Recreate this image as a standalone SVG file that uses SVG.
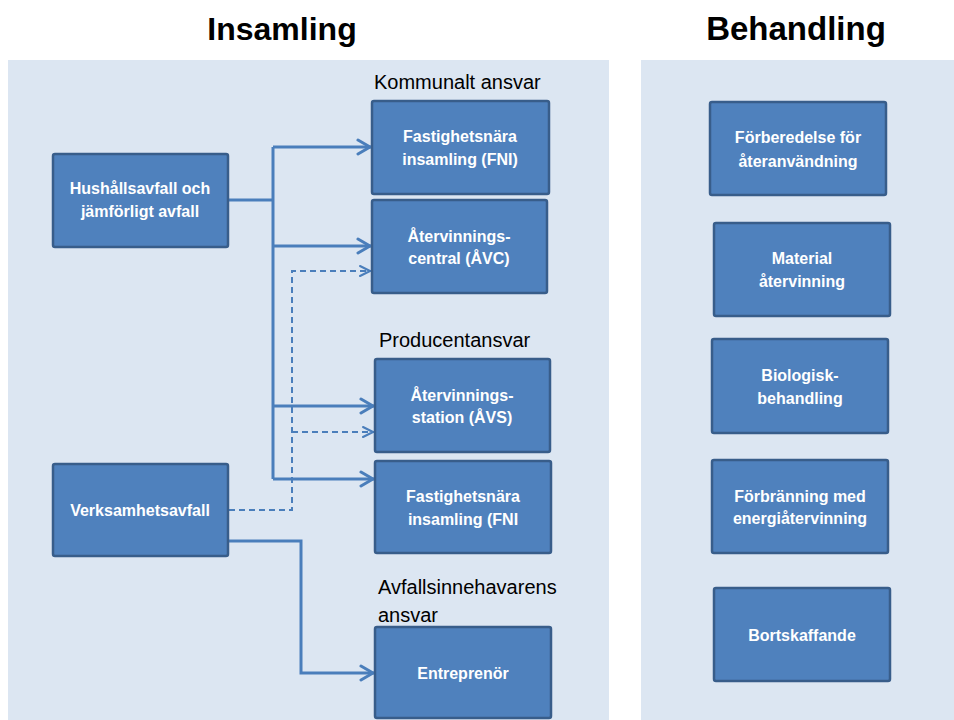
<svg xmlns="http://www.w3.org/2000/svg" width="954" height="720" viewBox="0 0 954 720">
  <style>
    .panel { fill: #DCE6F2; }
    .box { fill: #4F81BD; stroke: #385D8A; stroke-width: 2.5; }
    .lbl { fill: #FFFFFF; font-family: "Liberation Sans", Arial, sans-serif; font-weight: bold; font-size: 16px; text-anchor: middle; }
    .title { fill: #000000; font-family: "Liberation Sans", Arial, sans-serif; font-weight: bold; font-size: 32px; text-anchor: middle; }
    .note { fill: #000000; font-family: "Liberation Sans", Arial, sans-serif; font-size: 20px; }
    .solid { fill: none; stroke: #4A7EBB; stroke-width: 3; stroke-linejoin: miter; }
    .dash { fill: none; stroke: #4A7EBB; stroke-width: 2; stroke-dasharray: 6 4; }
  </style>
  <defs>
    <marker id="arrow" markerUnits="userSpaceOnUse" viewBox="0 0 16 18" refX="15" refY="9" markerWidth="16" markerHeight="18" orient="auto">
      <path d="M2,2 L14,9 L2,16" fill="none" stroke="#4A7EBB" stroke-width="3" stroke-linecap="round" stroke-linejoin="round"/>
    </marker>
    <marker id="arrowDash" markerUnits="userSpaceOnUse" viewBox="0 0 14 14" refX="13" refY="7" markerWidth="14" markerHeight="14" orient="auto">
      <path d="M2,2 L12,7 L2,12" fill="none" stroke="#4A7EBB" stroke-width="2" stroke-linecap="round" stroke-linejoin="round"/>
    </marker>
  </defs>

  <rect width="954" height="720" fill="#FFFFFF"/>

  <!-- section headings -->
  <text class="title" x="282" y="40">Insamling</text>
  <text class="title" x="796" y="40" style="font-size:33px">Behandling</text>

  <!-- background panels -->
  <rect class="panel" x="8" y="60" width="601" height="660"/>
  <rect class="panel" x="641" y="60" width="313" height="660"/>

  <!-- responsibility captions -->
  <text class="note" x="374" y="89">Kommunalt ansvar</text>
  <text class="note" x="379" y="347">Producentansvar</text>
  <text class="note" x="378" y="594">Avfallsinnehavarens</text>
  <text class="note" x="378" y="622">ansvar</text>

  <!-- connectors -->
  <g id="connectors">
    <path class="solid" d="M228,200 H273"/>
    <path class="solid" d="M273,147 V479"/>
    <path class="solid" d="M273,147 H371" marker-end="url(#arrow)"/>
    <path class="solid" d="M273,246 H371" marker-end="url(#arrow)"/>
    <path class="solid" d="M273,406 H374" marker-end="url(#arrow)"/>
    <path class="solid" d="M273,479 H374" marker-end="url(#arrow)"/>
    <path class="dash" d="M229,510 H292 V271 H371" marker-end="url(#arrowDash)"/>
    <path class="dash" d="M292,432 H374" marker-end="url(#arrowDash)"/>
    <path class="solid" d="M228,541 H301 V673 H374" marker-end="url(#arrow)"/>
  </g>

  <!-- collection side -->
  <g id="hushall">
    <rect class="box" x="53" y="154" width="175" height="93" rx="2"/>
    <text class="lbl" x="140" y="194">Hushållsavfall och</text>
    <text class="lbl" x="140" y="217">jämförligt avfall</text>
  </g>
  <g id="verksamhet">
    <rect class="box" x="53" y="464" width="175" height="92" rx="2"/>
    <text class="lbl" x="140" y="516">Verksamhetsavfall</text>
  </g>
  <g id="fni-kommunal">
    <rect class="box" x="372" y="101" width="177" height="93" rx="2"/>
    <text class="lbl" x="460" y="142">Fastighetsnära</text>
    <text class="lbl" x="460" y="165">insamling (FNI)</text>
  </g>
  <g id="avc">
    <rect class="box" x="372" y="200" width="175" height="93" rx="2"/>
    <text class="lbl" x="459" y="242">Återvinnings-</text>
    <text class="lbl" x="459" y="264">central (ÅVC)</text>
  </g>
  <g id="avs">
    <rect class="box" x="375" y="359" width="175" height="93" rx="2"/>
    <text class="lbl" x="462" y="401">Återvinnings-</text>
    <text class="lbl" x="462" y="423">station (ÅVS)</text>
  </g>
  <g id="fni-producent">
    <rect class="box" x="375" y="461" width="176" height="92" rx="2"/>
    <text class="lbl" x="463" y="502">Fastighetsnära</text>
    <text class="lbl" x="463" y="525">insamling  (FNI</text>
  </g>
  <g id="entreprenor">
    <rect class="box" x="375" y="627" width="176" height="91" rx="2"/>
    <text class="lbl" x="463" y="679">Entreprenör</text>
  </g>

  <!-- treatment side -->
  <g id="forberedelse">
    <rect class="box" x="710" y="102" width="176" height="93" rx="2"/>
    <text class="lbl" x="798" y="143">Förberedelse för</text>
    <text class="lbl" x="798" y="167">återanvändning</text>
  </g>
  <g id="material">
    <rect class="box" x="714" y="223" width="176" height="93" rx="2"/>
    <text class="lbl" x="802" y="264">Material</text>
    <text class="lbl" x="802" y="287">återvinning</text>
  </g>
  <g id="biologisk">
    <rect class="box" x="712" y="339" width="176" height="94" rx="2"/>
    <text class="lbl" x="800" y="381">Biologisk-</text>
    <text class="lbl" x="800" y="404">behandling</text>
  </g>
  <g id="forbranning">
    <rect class="box" x="712" y="460" width="176" height="93" rx="2"/>
    <text class="lbl" x="800" y="502">Förbränning  med</text>
    <text class="lbl" x="800" y="524">energiåtervinning</text>
  </g>
  <g id="bortskaffande">
    <rect class="box" x="714" y="588" width="176" height="93" rx="2"/>
    <text class="lbl" x="802" y="641">Bortskaffande</text>
  </g>
</svg>
